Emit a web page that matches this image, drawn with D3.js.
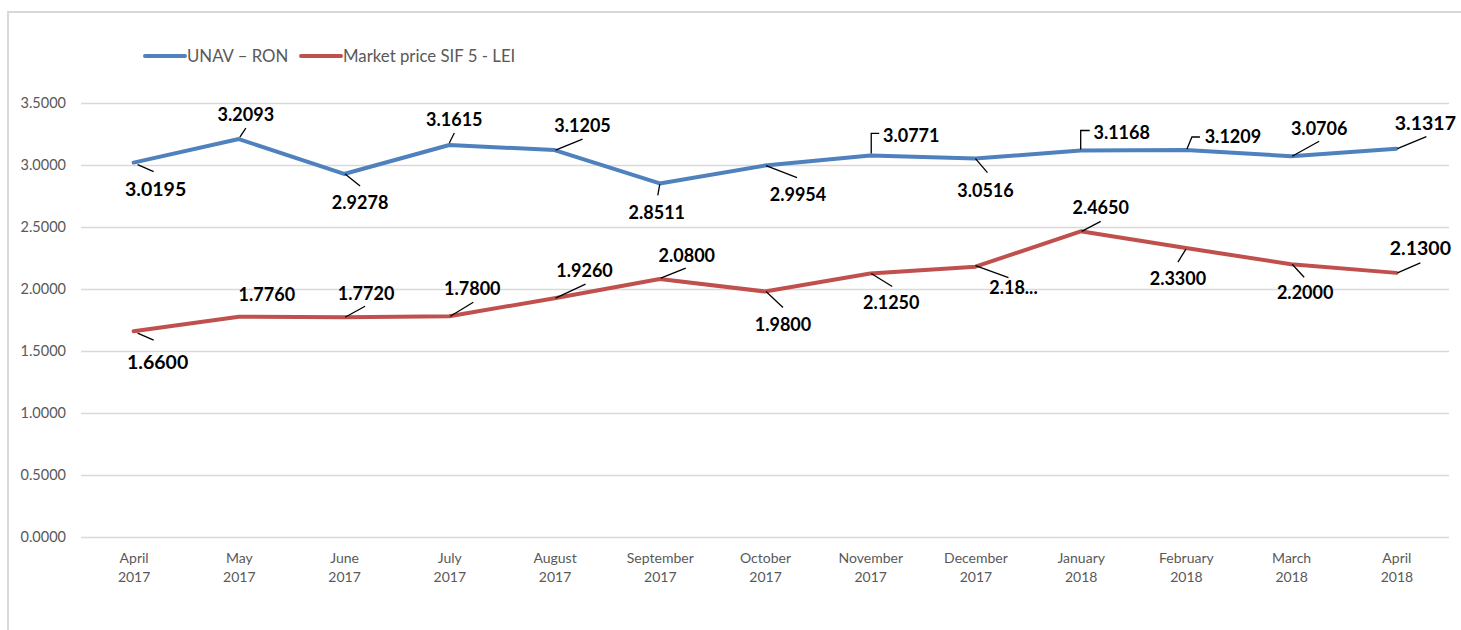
<!DOCTYPE html>
<html>
<head>
<meta charset="utf-8">
<script src="https://cdn.jsdelivr.net/npm/d3@7"></script>
<style>
  body { margin: 0; background: #fff; }
  text { font-family: Lato, "Open Sans", sans-serif; }
</style>
</head>
<body>
<svg width="1461" height="630"></svg>
<script>
// data
var months = ["April|2017", "May|2017", "June|2017", "July|2017", "August|2017", "September|2017",
  "October|2017", "November|2017", "December|2017", "January|2018", "February|2018", "March|2018", "April|2018"]
var unav = [3.0195, 3.2093, 2.9278, 3.1615, 3.1205, 2.8511, 2.9954, 3.0771, 3.0516, 3.1168, 3.1209, 3.0706, 3.1317]
var market = [1.6600, 1.7760, 1.7720, 1.7800, 1.9260, 2.0800, 1.9800, 2.1250, 2.1800, 2.4650, 2.3300, 2.2000, 2.1300]
var yTicks = [0, 0.5, 1, 1.5, 2, 2.5, 3, 3.5]
var seriesNames = ["UNAV \u2013 RON", "Market price SIF 5 - LEI"]
// excel cut this one short
var marketText = {8: "2.18..."}

// label placement (offsets from the point), leader as polyline of offsets
var unavPos = [
  {dx: 22, dy: 26, big: true, lead: [[4, 2], [20, 9]]},
  {dx: 7, dy: -25, lead: [[1, -2], [7, -11]]},
  {dx: 16, dy: 29, lead: [[1, 0], [16, 12]]},
  {dx: 5, dy: -25, lead: [[0, -2], [5, -12]]},
  {dx: 28, dy: -25, lead: [[1, 0], [28, -11]]},
  {dx: -3, dy: 29, lead: [[0, 1], [-2, 12]]},
  {dx: 33, dy: 29, lead: [[1, 0], [32, 12]]},
  {dx: 41, dy: -20, lead: [[1, -2], [1, -22], [9, -22]]},
  {dx: 10, dy: 32, lead: [[0, 0], [12, 14]]},
  {dx: 41, dy: -18, lead: [[0, -1], [0, -20], [9, -20]]},
  {dx: 47, dy: -13, lead: [[1, -1], [6, -13], [14, -13]]},
  {dx: 28, dy: -28, lead: [[1, 0], [28, -15]]},
  {dx: 29, dy: -26, big: true, lead: [[1, 0], [30, -12]]}
]
var marketPos = [
  {dx: 24, dy: 31, big: true, lead: [[4, 2], [20, 9]]},
  {dx: 28, dy: -22, lead: null},
  {dx: 22, dy: -24, lead: [[1, 0], [21, -11]]},
  {dx: 23, dy: -28, lead: [[1, 0], [24, -14]]},
  {dx: 30, dy: -28, lead: [[1, 0], [31, -14]]},
  {dx: 27, dy: -24, lead: [[1, -1], [26, -11]]},
  {dx: 18, dy: 33, lead: [[1, 0], [18, 16]]},
  {dx: 21, dy: 29, lead: [[1, 0], [22, 13]]},
  {dx: 38, dy: 21, lead: [[0, -1], [33, 11]]},
  {dx: 20, dy: -24, lead: [[1, 0], [20, -10]]},
  {dx: -8, dy: 30, lead: [[0, 1], [-8, 14]]},
  {dx: 14, dy: 28, lead: [[1, 0], [13, 13]]},
  {dx: 24, dy: -25, big: true, lead: [[1, 0], [24, -10]]}
]

var svg = d3.select("svg")
var blue = "#4f81bd", red = "#c0504d", grey = "#595959", grid = "#d9d9d9"

var x = d3.scalePoint().domain(months).range([81, 1449]).padding(0.5)
var y = d3.scaleLinear().domain([0, 3.5]).range([537, 103])

// chart frame (top + left only visible)
svg.append("path")
  .attr("d", "M8,630 V12 H1461")
  .attr("fill", "none").attr("stroke", grid).attr("stroke-width", 2)

// gridlines + y labels
var yAxis = svg.append("g").attr("transform", "translate(81,0)")
  .call(d3.axisLeft(y).tickValues(yTicks).tickSize(-1368).tickPadding(15).tickFormat(d3.format(".4f")))
yAxis.select(".domain").remove()
yAxis.selectAll(".tick line").attr("stroke", grid).attr("stroke-width", 1.5)
yAxis.selectAll(".tick text").attr("fill", grey).style("font-size", "14.5px").style("font-family", "Lato")

// x labels, two lines each
var xAxis = svg.append("g").attr("transform", "translate(0,537)")
  .call(d3.axisBottom(x).tickSize(0).tickFormat(""))
xAxis.select(".domain").remove()
xAxis.selectAll(".tick").append("text")
  .attr("fill", grey).attr("text-anchor", "middle")
  .style("font-size", "14px").style("font-family", "Lato")
  .selectAll("tspan")
  .data(function(d){ return d.split("|") })
  .enter().append("tspan")
    .attr("x", 0)
    .attr("y", function(d, i){ return 26 + i * 19 })
    .text(function(d){ return d })

var line = d3.line()
  .x(function(d, i){ return x(months[i]) })
  .y(function(d){ return y(d) })

function drawSeries(vals, color, pos, texts) {
  svg.append("path").datum(vals)
    .attr("d", line)
    .attr("fill", "none").attr("stroke", color).attr("stroke-width", 4)
    .attr("stroke-linejoin", "round").attr("stroke-linecap", "round")

  var pts = vals.map(function(v, i){ return {v: v, i: i, p: pos[i]} })

  var g = svg.append("g").selectAll("g")
    .data(pts).enter().append("g")
      .attr("transform", function(d){ return `translate(${x(months[d.i])},${y(d.v)})` })

  g.filter(function(d){ return d.p.lead })
    .append("polyline")
      .attr("points", function(d){ return d.p.lead.map(function(p){ return p.join(",") }).join(" ") })
      .attr("fill", "none").attr("stroke", "#000").attr("stroke-width", 1.3)

  g.append("text")
    .attr("x", function(d){ return d.p.dx })
    .attr("y", function(d){ return d.p.dy })
    .attr("dy", "0.36em")
    .attr("text-anchor", "middle")
    .attr("font-weight", 700)
    .style("font-size", function(d){ return d.p.big ? "19.5px" : "18px" })
    .attr("fill", "#000")
    .text(function(d){ return texts[d.i] || d3.format(".4f")(d.v) })
}

drawSeries(unav, blue, unavPos, {})
drawSeries(market, red, marketPos, marketText)

// legend
var legend = svg.append("g")
var legX = [145, 301]
;[blue, red].forEach(function(c, i){
  legend.append("line")
    .attr("x1", legX[i]).attr("x2", legX[i] + 40).attr("y1", 56).attr("y2", 56)
    .attr("stroke", c).attr("stroke-width", 4).attr("stroke-linecap", "round")
  legend.append("text")
    .attr("x", legX[i] + 42).attr("y", 56).attr("dy", "0.35em")
    .attr("fill", grey).style("font-size", "16.8px")
    .text(seriesNames[i])
})
</script>
</body>
</html>
